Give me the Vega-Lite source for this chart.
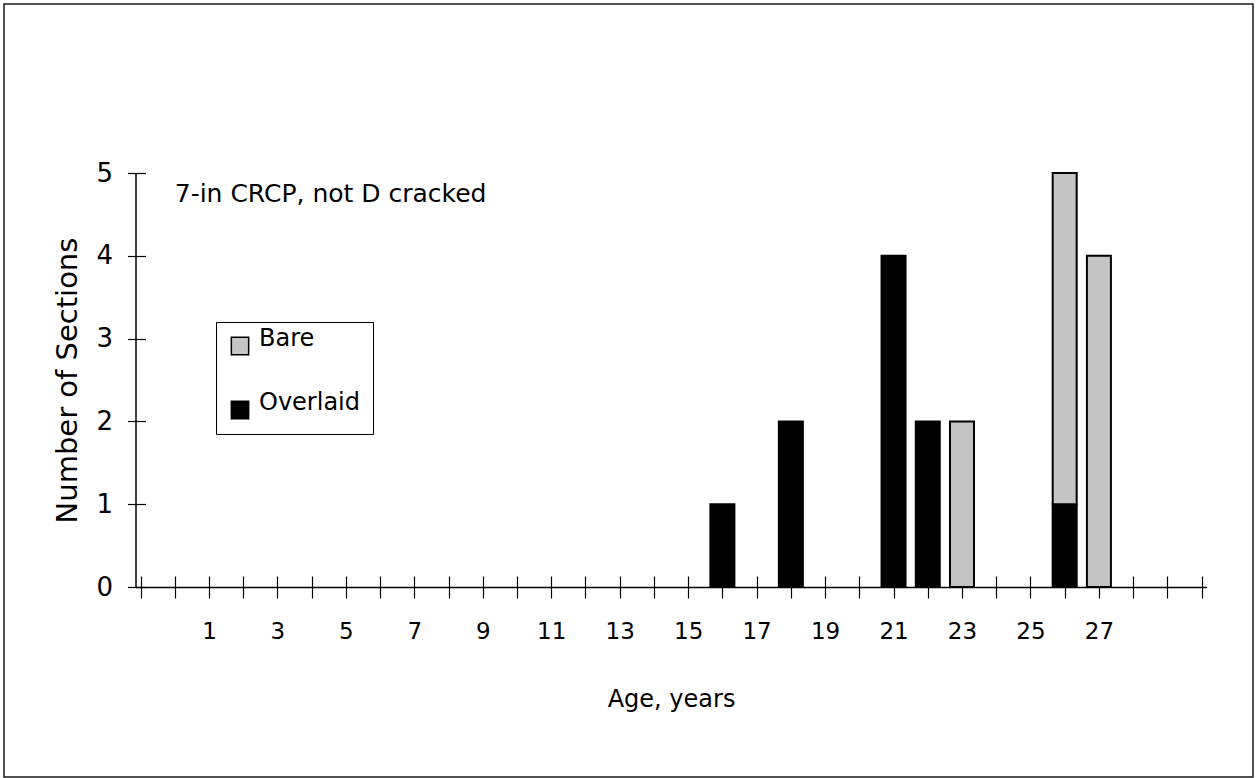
{
  "$schema": "https://vega.github.io/schema/vega-lite/v6.json",
  "width": 1249,
  "height": 773,
  "autosize": {"type": "none"},
  "padding": {"left": 4, "top": 4, "right": 4, "bottom": 1},
  "background": "white",
  "config": {
    "font": "DejaVu Sans",
    "view": {"stroke": "#1a1a1a", "strokeWidth": 1.5},
    "axis": {
      "grid": false,
      "domainColor": "black",
      "tickColor": "black",
      "labelColor": "black",
      "titleColor": "black",
      "titleFontWeight": "normal",
      "labelFont": "DejaVu Sans",
      "titleFont": "DejaVu Sans",
      "minExtent": 0
    },
    "legend": {
      "labelFont": "DejaVu Sans",
      "labelColor": "black"
    }
  },
  "layer": [
    {
      "data": {
        "values": [
          {"age": 16, "type": "Overlaid", "count": 1},
          {"age": 18, "type": "Overlaid", "count": 2},
          {"age": 21, "type": "Overlaid", "count": 4},
          {"age": 22, "type": "Overlaid", "count": 2},
          {"age": 23, "type": "Bare", "count": 2},
          {"age": 26, "type": "Overlaid", "count": 1},
          {"age": 26, "type": "Bare", "count": 4},
          {"age": 27, "type": "Bare", "count": 4}
        ]
      },
      "mark": {"type": "bar", "width": 24, "stroke": "black", "strokeWidth": 2},
      "encoding": {
        "x": {
          "field": "age",
          "type": "quantitative",
          "scale": {"domain": [-1, 30], "range": [131.5, 1202.6], "nice": false, "zero": false},
          "axis": {
            "orient": "bottom",
            "offset": -190,
            "values": [-1, 0, 1, 2, 3, 4, 5, 6, 7, 8, 9, 10, 11, 12, 13, 14, 15, 16, 17, 18, 19, 20, 21, 22, 23, 24, 25, 26, 27, 28, 29, 30],
            "labelExpr": "datum.value >= 1 && datum.value <= 27 && datum.value % 2 == 1 ? datum.label : ''",
            "labelOverlap": false,
            "labelFlush": false,
            "labelBound": false,
            "tickSize": 11,
            "tickWidth": 1.2,
            "domainWidth": 1.5,
            "labelFontSize": 23,
            "labelPadding": 22,
            "title": "Age, years",
            "titleFontSize": 24,
            "titlePadding": 44
          }
        },
        "y": {
          "field": "count",
          "type": "quantitative",
          "stack": "zero",
          "scale": {"domain": [0, 5], "range": [583, 169], "nice": false},
          "axis": {
            "orient": "left",
            "offset": -131.5,
            "values": [0, 1, 2, 3, 4, 5],
            "tickSize": 8,
            "tickWidth": 1.2,
            "domainWidth": 1.5,
            "labelFontSize": 26,
            "labelPadding": 15,
            "title": "Number of Sections",
            "titleFontSize": 29,
            "titlePadding": 13
          }
        },
        "color": {
          "field": "type",
          "type": "nominal",
          "scale": {"domain": ["Bare", "Overlaid"], "range": ["#c4c4c4", "#000000"]},
          "legend": {
            "orient": "none",
            "legendX": 212,
            "legendY": 318,
            "title": null,
            "strokeColor": "black",
            "fillColor": "white",
            "padding": 12,
            "symbolType": "square",
            "symbolSize": 300,
            "symbolStrokeColor": "black",
            "symbolStrokeWidth": 1.5,
            "labelFontSize": 24,
            "labelBaseline": "alphabetic",
            "labelOffset": 7,
            "rowPadding": 33
          }
        },
        "order": {"field": "type", "sort": "descending"}
      }
    },
    {
      "data": {"values": [{"label": "7-in CRCP, not D cracked"}]},
      "mark": {"type": "text", "align": "left", "baseline": "alphabetic", "fontSize": 25, "color": "black", "font": "DejaVu Sans"},
      "encoding": {
        "text": {"field": "label"},
        "x": {
          "datum": 0.0,
          "type": "quantitative",
          "scale": {"domain": [-1, 30], "range": [131.5, 1202.6], "nice": false, "zero": false},
          "axis": {
            "orient": "top",
            "offset": -583,
            "values": [-1, 0, 1, 2, 3, 4, 5, 6, 7, 8, 9, 10, 11, 12, 13, 14, 15, 16, 17, 18, 19, 20, 21, 22, 23, 24, 25, 26, 27, 28, 29, 30],
            "labels": false,
            "domain": false,
            "tickSize": 11,
            "tickWidth": 1.2,
            "title": null
          }
        },
        "y": {
          "datum": 4.65,
          "type": "quantitative",
          "scale": {"domain": [0, 5], "range": [583, 169], "nice": false},
          "axis": {
            "orient": "right",
            "offset": -1117.5,
            "values": [0, 1, 2, 3, 4, 5],
            "labels": false,
            "domain": false,
            "tickSize": 10,
            "tickWidth": 1.2,
            "title": null
          }
        }
      }
    }
  ],
  "resolve": {"axis": {"x": "independent", "y": "independent"}}
}
